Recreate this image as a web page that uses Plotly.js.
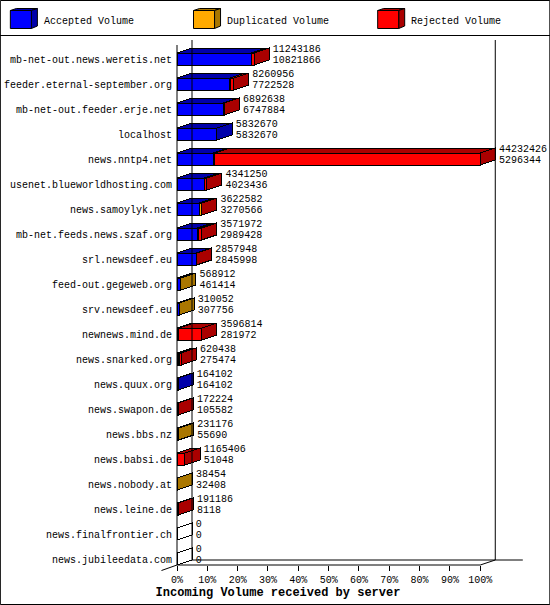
<!DOCTYPE html>
<html><head><meta charset="utf-8">
<script src="https://cdn.plot.ly/plotly-3.0.1.min.js"></script>
<style>html,body{margin:0;padding:0;background:#fff}#c{width:550px;height:605px}
.scatterlayer path,.barlayer path{shape-rendering:crispEdges}</style>
</head><body><div id="c"></div>
<script>
const servers = ["mb-net-out.news.weretis.net","feeder.eternal-september.org","mb-net-out.feeder.erje.net","localhost","news.nntp4.net","usenet.blueworldhosting.com","news.samoylyk.net","mb-net.feeds.news.szaf.org","srl.newsdeef.eu","feed-out.gegeweb.org","srv.newsdeef.eu","newnews.mind.de","news.snarked.org","news.quux.org","news.swapon.de","news.bbs.nz","news.babsi.de","news.nobody.at","news.leine.de","news.finalfrontier.ch","news.jubileedata.com"];
const totalLabel = [11243186,8260956,6892638,5832670,44232426,4341250,3622582,3571972,2857948,568912,310052,3596814,620438,164102,172224,231176,1165406,38454,191186,0,0];
const accepted   = [10821866,7722528,6747884,5832670,5296344,4023436,3270566,2989428,2845998,461414,307756,281972,275474,164102,105582,55690,51048,32408,8118,0,0];
const duplicated = [20000,30000,0,0,220000,10000,250000,100000,0,107498,2296,0,150000,0,0,175486,0,6046,0,0,0];
const rejected   = [401320,508428,144754,0,38716082,307814,102016,482544,11950,0,0,3314842,194964,0,66642,0,1114358,0,183068,0,0];
const tickPercents = [0,10,20,30,40,50,60,70,80,90,100];
const legendLabels = ["Accepted Volume","Duplicated Volume","Rejected Volume"];
const frontColors = ["#0000ff","#ffaa00","#ff0000"];
const shadeColors = ["#0000aa","#aa7700","#aa0000"];

const W=550,H=605,L=177,R=27.3,T=40,B=40;
const pxPerPct=3.03,pxPerRow=25;
const dx=15/pxPerPct,dy=5/pxPerRow,half=6/pxPerRow;
const maxTotal=Math.max(...totalLabel);
const pct=v=>v/maxTotal*100;
const rows=servers.map((_,i)=>i);
const mono="'Liberation Mono','DejaVu Sans Mono',monospace";
const series=[accepted,duplicated,rejected];

const traces=series.map((s,k)=>({type:"bar",orientation:"h",name:legendLabels[k],y:rows,x:s.map(pct),width:2*half,
  marker:{color:frontColors[k],line:{color:"#000",width:1}},hoverinfo:"skip"}));

const polys=series.map(()=>({x:[],y:[]}));
const empty={x:[],y:[]};
const add=(p,xs,ys)=>{p.x.push(...xs,xs[0],null);p.y.push(...ys,ys[0],null);};
rows.forEach(i=>{
  const yt=i-half,yb=i+half;let x0=0,last=-1,end=0;
  series.forEach((s,k)=>{
    if(s[i]<=0)return;
    const x1=x0+pct(s[i]);
    add(polys[k],[x0,x1,x1+dx,x0+dx],[yt,yt,yt-dy,yt-dy]);
    x0=x1;last=k;end=x1;
  });
  if(last>=0) add(polys[last],[end,end+dx,end+dx,end],[yt,yt-dy,yb-dy,yb]);
  else { add(empty,[0,dx,dx,0],[yt,yt-dy,yb-dy,yb]); }
});
polys.forEach((p,k)=>traces.push({type:"scatter",mode:"lines",x:p.x,y:p.y,fill:"toself",fillcolor:shadeColors[k],
  line:{color:"#000",width:1},hoverinfo:"skip",showlegend:false}));
traces.push({type:"scatter",mode:"lines",x:empty.x,y:empty.y,line:{color:"#000",width:1},hoverinfo:"skip",showlegend:false});

const labelEnd=i=>pct(totalLabel[i])+dx+3.7/pxPerPct;
traces.push({type:"scatter",mode:"text",x:rows.map(labelEnd),y:rows.map(i=>i-10/pxPerRow),text:totalLabel.map(String),
  textposition:"middle right",cliponaxis:false,textfont:{family:mono,size:10,color:"#000"},hoverinfo:"skip",showlegend:false});
traces.push({type:"scatter",mode:"text",x:rows.map(labelEnd),y:rows.map(i=>i+1/pxPerRow),text:accepted.map(String),
  textposition:"middle right",cliponaxis:false,textfont:{family:mono,size:10,color:"#000"},hoverinfo:"skip",showlegend:false});

const plotW=W-L-R,plotH=H-T-B;
const px=v=>(v-L)/plotW, py=v=>1-(v-T)/plotH;
const line=(x0,y0,x1,y1)=>({type:"line",xref:"paper",yref:"paper",x0:px(x0),y0:py(y0),x1:px(x1),y1:py(y1),line:{color:"#000",width:1}});
const shapes=[
  {type:"rect",xref:"paper",yref:"paper",x0:px(0.5),y0:py(0.5),x1:px(549.5),y1:py(604.5),line:{color:"#000",width:1},fillcolor:"rgba(0,0,0,0)"},
  line(0,35.5,550,35.5),
  line(177,45,177,565), line(192,40,192,560), line(495,40,495,560),
  line(177,565,480,565), line(192,560,522.5,560),
  line(161.5,570.5,177,565), line(480,565,495,560)
];
const annotations=[];
[10.5,193.5,377.5].forEach((x,k)=>{
  const poly=(pts,c)=>shapes.push({type:"path",xref:"paper",yref:"paper",
    path:"M"+pts.map(p=>px(p[0])+","+py(p[1])).join("L")+"Z",fillcolor:c,line:{color:"#000",width:1}});
  poly([[x,10.5],[x+6,8.5],[x+27,8.5],[x+21,10.5]],shadeColors[k]);
  poly([[x+21,10.5],[x+27,8.5],[x+27,26],[x+21,28.5]],shadeColors[k]);
  poly([[x,10.5],[x+21,10.5],[x+21,28.5],[x,28.5]],frontColors[k]);
  annotations.push({xref:"paper",yref:"paper",x:px(x+32.5),y:py(21),xanchor:"left",yanchor:"middle",showarrow:false,
    text:legendLabels[k],font:{family:mono,size:10,color:"#000"},borderpad:0});
});

Plotly.newPlot("c",traces,{
  width:W,height:H,autosize:false,showlegend:false,barmode:"stack",
  paper_bgcolor:"#fff",plot_bgcolor:"#fff",
  margin:{l:L,r:R,t:T,b:B,pad:0},
  title:{text:"Incoming Volume received by server",x:278/W,y:1-592/H,xref:"container",yref:"container",xanchor:"center",yanchor:"middle",
    font:{family:mono,size:12,color:"#000",weight:"bold"}},
  xaxis:{range:[0,(W-R-L)/pxPerPct],tickvals:tickPercents,ticktext:tickPercents.map(p=>p+"%"),ticks:"outside",ticklen:5,tickwidth:1,tickcolor:"#000",
    showgrid:false,zeroline:false,showline:false,tickangle:0,tickfont:{family:mono,size:10,color:"#000"},automargin:false},
  yaxis:{range:[(H-B-59)/pxPerRow,(T-59)/pxPerRow],tickvals:rows,ticktext:servers,ticks:"",ticklabelstandoff:4,showgrid:false,zeroline:false,showline:false,
    tickfont:{family:mono,size:10,color:"#000"},automargin:false},
  shapes,annotations
},{displayModeBar:false,staticPlot:true});
</script></body></html>
